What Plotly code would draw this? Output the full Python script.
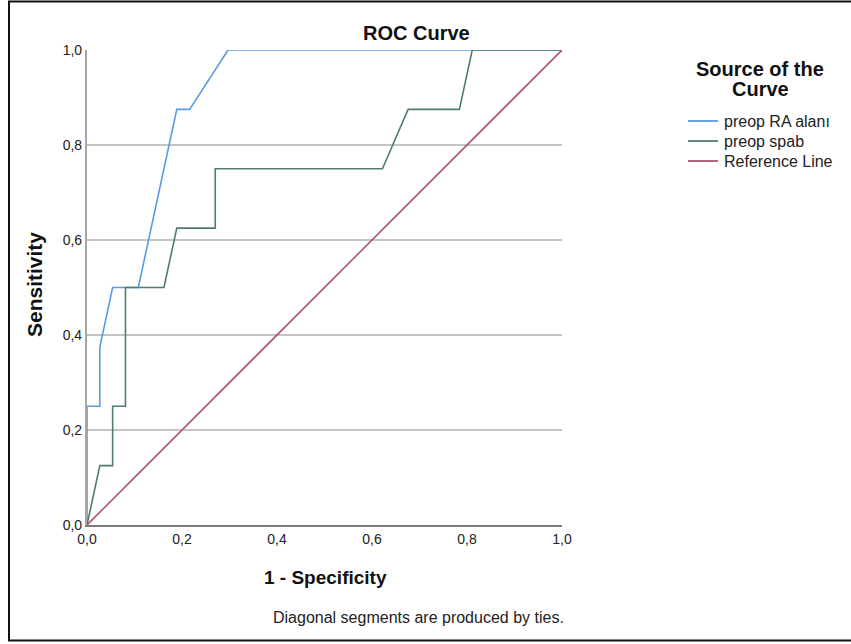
import plotly.graph_objects as go

# ROC coordinates (1 - specificity, sensitivity)
ra_fpr = [0.0, 0.0, 0.027, 0.027, 0.054, 0.108, 0.189, 0.216, 0.297, 1.0]
ra_tpr = [0.0, 0.25, 0.25, 0.375, 0.5, 0.5, 0.875, 0.875, 1.0, 1.0]

spab_fpr = [0.0, 0.027, 0.054, 0.054, 0.081, 0.081, 0.162, 0.189, 0.270, 0.270,
            0.622, 0.676, 0.784, 0.811, 1.0]
spab_tpr = [0.0, 0.125, 0.125, 0.25, 0.25, 0.5, 0.5, 0.625, 0.625, 0.75,
            0.75, 0.875, 0.875, 1.0, 1.0]

ref_x = [0.0, 1.0]
ref_y = [0.0, 1.0]

series_names = ["preop RA alanı", "preop spab", "Reference Line"]
series_colors = ["#5b9be3", "#4f7d73", "#a9566e"]

tick_vals = [0.0, 0.2, 0.4, 0.6, 0.8, 1.0]
tick_text = ["0,0", "0,2", "0,4", "0,6", "0,8", "1,0"]

W, H = 851, 644
L, R, T, B = 87, 289, 50, 119
PW, PH = W - L - R, H - T - B


def px(x):
    return (x - L) / PW


def py(y):
    return (H - B - y) / PH


FONT = "Liberation Sans, Arial, sans-serif"

fig = go.Figure()
for xs, ys, name, color in zip([ra_fpr, spab_fpr, ref_x], [ra_tpr, spab_tpr, ref_y],
                               series_names, series_colors):
    fig.add_trace(go.Scatter(x=xs, y=ys, mode="lines", name=name,
                             line=dict(color=color, width=1.6)))

fig.update_layout(
    width=W, height=H,
    margin=dict(l=L, r=R, t=T, b=B),
    paper_bgcolor="white", plot_bgcolor="white",
    font=dict(family=FONT, color="#222222", size=12),
    showlegend=False,
    xaxis=dict(
        range=[0, 1], tickvals=tick_vals, ticktext=tick_text,
        showgrid=False, zeroline=False, showline=True,
        linecolor="#7a7a7a", linewidth=1.5, ticks="",
        tickfont=dict(size=14, color="#222222"),
        fixedrange=True,
    ),
    yaxis=dict(
        range=[0, 1], tickvals=tick_vals, ticktext=tick_text,
        showgrid=True, gridcolor="#c4c4c4", gridwidth=1.5,
        zeroline=False, showline=True, linecolor="#a6a6a6", linewidth=2.2,
        ticks="", tickfont=dict(size=14, color="#222222"),
        fixedrange=True,
    ),
)

annotations = [
    dict(text="<b>ROC Curve</b>", x=px(416), y=py(33), xref="paper", yref="paper",
         showarrow=False, font=dict(size=20, color="#111111"), xanchor="center", yanchor="middle"),
    dict(text="<b>Source of the</b>", x=px(760), y=py(69), xref="paper", yref="paper",
         showarrow=False, font=dict(size=20, color="#111111"), xanchor="center", yanchor="middle"),
    dict(text="<b>Curve</b>", x=px(760), y=py(89), xref="paper", yref="paper",
         showarrow=False, font=dict(size=20, color="#111111"), xanchor="center", yanchor="middle"),
    dict(text="<b>1 - Specificity</b>", x=px(325), y=py(577), xref="paper", yref="paper",
         showarrow=False, font=dict(size=19, color="#111111"), xanchor="center", yanchor="middle"),
    dict(text="<b>Sensitivity</b>", x=px(34), y=py(285), xref="paper", yref="paper",
         showarrow=False, textangle=-90, font=dict(size=21, color="#111111"),
         xanchor="center", yanchor="middle"),
    dict(text="Diagonal segments are produced by ties.", x=px(566), y=py(617),
         xref="paper", yref="paper", showarrow=False, font=dict(size=16, color="#222222"),
         xanchor="right", yanchor="middle"),
]

# legend: short line swatch plus series name for each curve
for i, (name, color) in enumerate(zip(series_names, series_colors)):
    yy = 121 + 20 * i
    fig.add_shape(type="line", xref="paper", yref="paper",
                  x0=px(688), x1=px(718), y0=py(yy), y1=py(yy),
                  line=dict(color=color, width=1.8))
    annotations.append(dict(text=name, x=px(722), y=py(yy), xref="paper", yref="paper",
                            showarrow=False, xanchor="left", yanchor="middle",
                            font=dict(size=16, color="#222222")))

fig.update_layout(annotations=annotations)

# outer frame around the chart
fig.add_shape(type="rect", xref="paper", yref="paper",
              x0=px(9), x1=px(852), y0=py(640.5), y1=py(1.5),
              line=dict(color="#111111", width=2), fillcolor="rgba(0,0,0,0)")

fig.write_html("out.html")
